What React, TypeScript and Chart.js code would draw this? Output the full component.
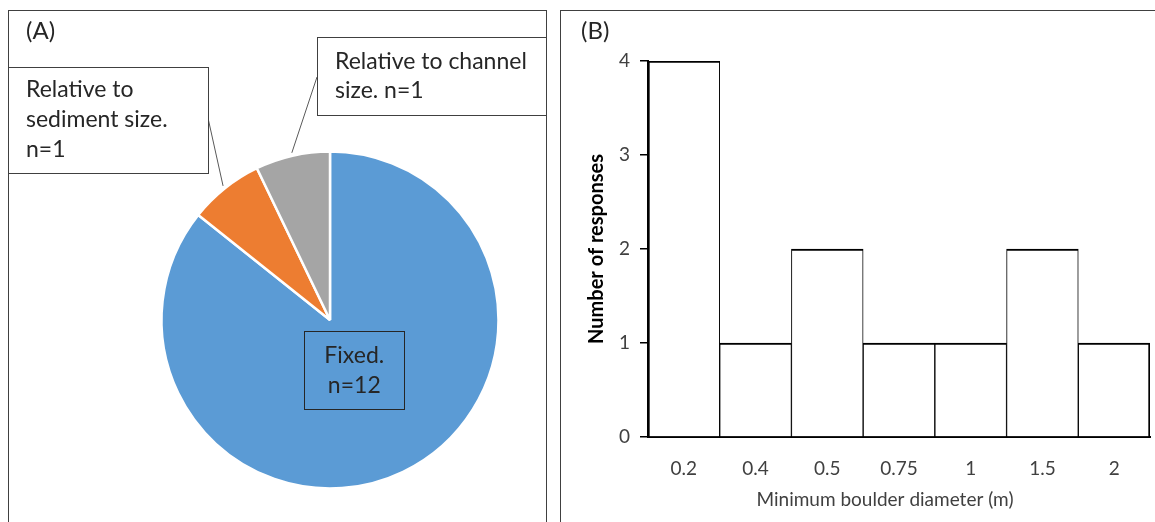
import React, { useEffect, useRef } from 'react';
import { Chart, registerables } from 'chart.js';

Chart.register(...registerables);

// ---- Panel A data ----
const pieLabels = ['Fixed.', 'Relative to sediment size.', 'Relative to channel size.'];
const pieValues = [12, 1, 1];
const pieColors = ['#5B9BD5', '#ED7D31', '#A5A5A5'];
const pieLabelLines = [
  ['Fixed.', 'n=12'],
  ['Relative to', 'sediment size.', 'n=1'],
  ['Relative to channel', 'size. n=1'],
];

// ---- Panel B data ----
const diameterCategories = ['0.2', '0.4', '0.5', '0.75', '1', '1.5', '2'];
const responseCounts = [4, 1, 2, 1, 1, 2, 1];
const yTickValues = [0, 1, 2, 3, 4];
const xAxisTitle = 'Minimum boulder diameter (m)';
const yAxisTitle = 'Number of responses';

const FONT = 'Lato, "Open Sans", sans-serif';
const TEXT = '#262626';
const AXIS_TEXT = '#404040';

const pieLabelPlugin = {
  id: 'pieLabelPlugin',
  afterDatasetsDraw(chart: any) {
    const ctx = chart.ctx as CanvasRenderingContext2D;
    const meta = chart.getDatasetMeta(0);
    ctx.save();
    ctx.textBaseline = 'middle';
    // panel tag
    ctx.font = `24px ${FONT}`;
    ctx.fillStyle = TEXT;
    ctx.textAlign = 'left';
    ctx.fillText('(A)', 17, 20);

    ctx.font = `23px ${FONT}`;
    // callout boxes (annotation layout)
    const callouts: any = {
      1: { box: [-1, 56, 200, 106], anchor: [199, 107], textX: 17, lineY: [79, 109, 139] },
      2: { box: [308, 26, 240, 78], anchor: [308, 66], textX: 326, lineY: [51, 80] },
    };

    meta.data.forEach((arc: any, i: number) => {
      const p = arc.getProps(['x', 'y', 'startAngle', 'endAngle', 'outerRadius'], true);
      const mid = (p.startAngle + p.endAngle) / 2;
      const lines = pieLabelLines[i];
      if (i === 0) {
        const cx = p.x + Math.cos(mid) * 56;
        const cy = p.y + Math.sin(mid) * 56;
        const w = 100, h = 78;
        ctx.strokeStyle = '#262626';
        ctx.lineWidth = 1;
        ctx.strokeRect(Math.round(cx - w / 2) + 0.5, Math.round(cy - h / 2) + 0.5, w, h);
        ctx.fillStyle = TEXT;
        ctx.textAlign = 'center';
        lines.forEach((t, k) => ctx.fillText(t, cx, cy - 15 + k * 30));
      } else {
        const c = callouts[i];
        const ex = p.x + Math.cos(mid) * (p.outerRadius + 3);
        const ey = p.y + Math.sin(mid) * (p.outerRadius + 3);
        ctx.strokeStyle = '#595959';
        ctx.lineWidth = 1;
        ctx.beginPath();
        ctx.moveTo(c.anchor[0], c.anchor[1]);
        ctx.lineTo(ex, ey);
        ctx.stroke();
        ctx.fillStyle = '#ffffff';
        ctx.fillRect(c.box[0], c.box[1], c.box[2], c.box[3]);
        ctx.strokeStyle = '#404040';
        ctx.strokeRect(c.box[0] + 0.5, c.box[1] + 0.5, c.box[2], c.box[3]);
        ctx.fillStyle = TEXT;
        ctx.textAlign = 'left';
        lines.forEach((t, k) => ctx.fillText(t, c.textX, c.lineY[k]));
      }
    });
    ctx.restore();
  },
};

const barDecorPlugin = {
  id: 'barDecorPlugin',
  afterDraw(chart: any) {
    const ctx = chart.ctx as CanvasRenderingContext2D;
    const area = chart.chartArea;
    ctx.save();
    ctx.textBaseline = 'middle';
    ctx.fillStyle = TEXT;
    ctx.textAlign = 'left';
    ctx.font = `24px ${FONT}`;
    ctx.fillText('(B)', 20, 20);
    // x axis title, centred under plot like the source
    ctx.font = `19px ${FONT}`;
    ctx.fillStyle = AXIS_TEXT;
    ctx.textAlign = 'center';
    ctx.fillText(xAxisTitle, (area.left + area.right) / 2 - 14, area.bottom + 63);
    ctx.restore();
  },
};

function PieChart() {
  const ref = useRef<HTMLCanvasElement>(null);
  useEffect(() => {
    const chart = new Chart(ref.current!, {
      type: 'pie',
      data: {
        labels: pieLabels,
        datasets: [
          {
            data: pieValues,
            backgroundColor: pieColors,
            borderColor: '#ffffff',
            borderWidth: 2.5,
            radius: 168.5,
          } as any,
        ],
      },
      options: {
        responsive: false,
        animation: false,
        devicePixelRatio: 1,
        layout: { padding: { left: 105, right: 0, top: 107, bottom: 0 } },
        plugins: { legend: { display: false }, tooltip: { enabled: false } },
        events: [],
      },
      plugins: [pieLabelPlugin],
    });
    return () => chart.destroy();
  }, []);
  return <canvas ref={ref} width={537} height={511} style={{ position: 'absolute', left: 9, top: 11 }} />;
}

function BarChart() {
  const ref = useRef<HTMLCanvasElement>(null);
  useEffect(() => {
    const last = responseCounts.length - 1;
    const chart = new Chart(ref.current!, {
      type: 'bar',
      data: {
        labels: diameterCategories,
        datasets: [
          {
            data: responseCounts,
            backgroundColor: '#ffffff',
            borderColor: '#000000',
            borderWidth: (c: any) => ({
              top: 2,
              bottom: 0,
              left: c.dataIndex === 0 ? 2 : 1,
              right: c.dataIndex === last ? 2 : 1,
            }),
            borderSkipped: false,
            barPercentage: 1,
            categoryPercentage: 1,
          } as any,
        ],
      },
      options: {
        responsive: false,
        animation: false,
        devicePixelRatio: 1,
        events: [],
        layout: { padding: { left: 0, right: 5, top: 50, bottom: 0 } },
        plugins: { legend: { display: false }, tooltip: { enabled: false } },
        scales: {
          x: {
            grid: { display: false, drawTicks: false },
            border: { display: true, color: '#000000', width: 2 },
            ticks: { color: AXIS_TEXT, font: { family: FONT, size: 19 }, padding: 20 },
            afterFit: (s: any) => {
              s.height = 85;
            },
          },
          y: {
            min: 0,
            max: 4,
            afterBuildTicks: (s: any) => {
              s.ticks = yTickValues.map((v) => ({ value: v }));
            },
            grid: { display: true, drawOnChartArea: false, drawTicks: true, tickLength: 8, color: '#000000', lineWidth: 1.5 },
            border: { display: true, color: '#000000', width: 2 },
            ticks: { color: AXIS_TEXT, font: { family: FONT, size: 19 }, padding: 10 },
            title: {
              display: true,
              text: yAxisTitle,
              color: '#000000',
              font: { family: FONT, size: 20, weight: 'bold' },
              padding: { top: 24, bottom: 0 },
            },
            afterFit: (s: any) => {
              s.width = 87;
            },
          },
        },
      },
      plugins: [barDecorPlugin],
    });
    return () => chart.destroy();
  }, []);
  return <canvas ref={ref} width={594} height={511} style={{ position: 'absolute', left: 561, top: 11 }} />;
}

export default function App() {
  return (
    <div style={{ position: 'fixed', left: 0, top: 0, width: 1155, height: 522, overflow: 'hidden', background: '#ffffff' }}>
      <div style={{ position: 'absolute', left: 8, top: 10, width: 539, height: 560, border: '1px solid #404040', boxSizing: 'border-box' }} />
      <div style={{ position: 'absolute', left: 560, top: 10, width: 640, height: 560, border: '1px solid #404040', boxSizing: 'border-box' }} />
      <PieChart />
      <BarChart />
    </div>
  );
}
